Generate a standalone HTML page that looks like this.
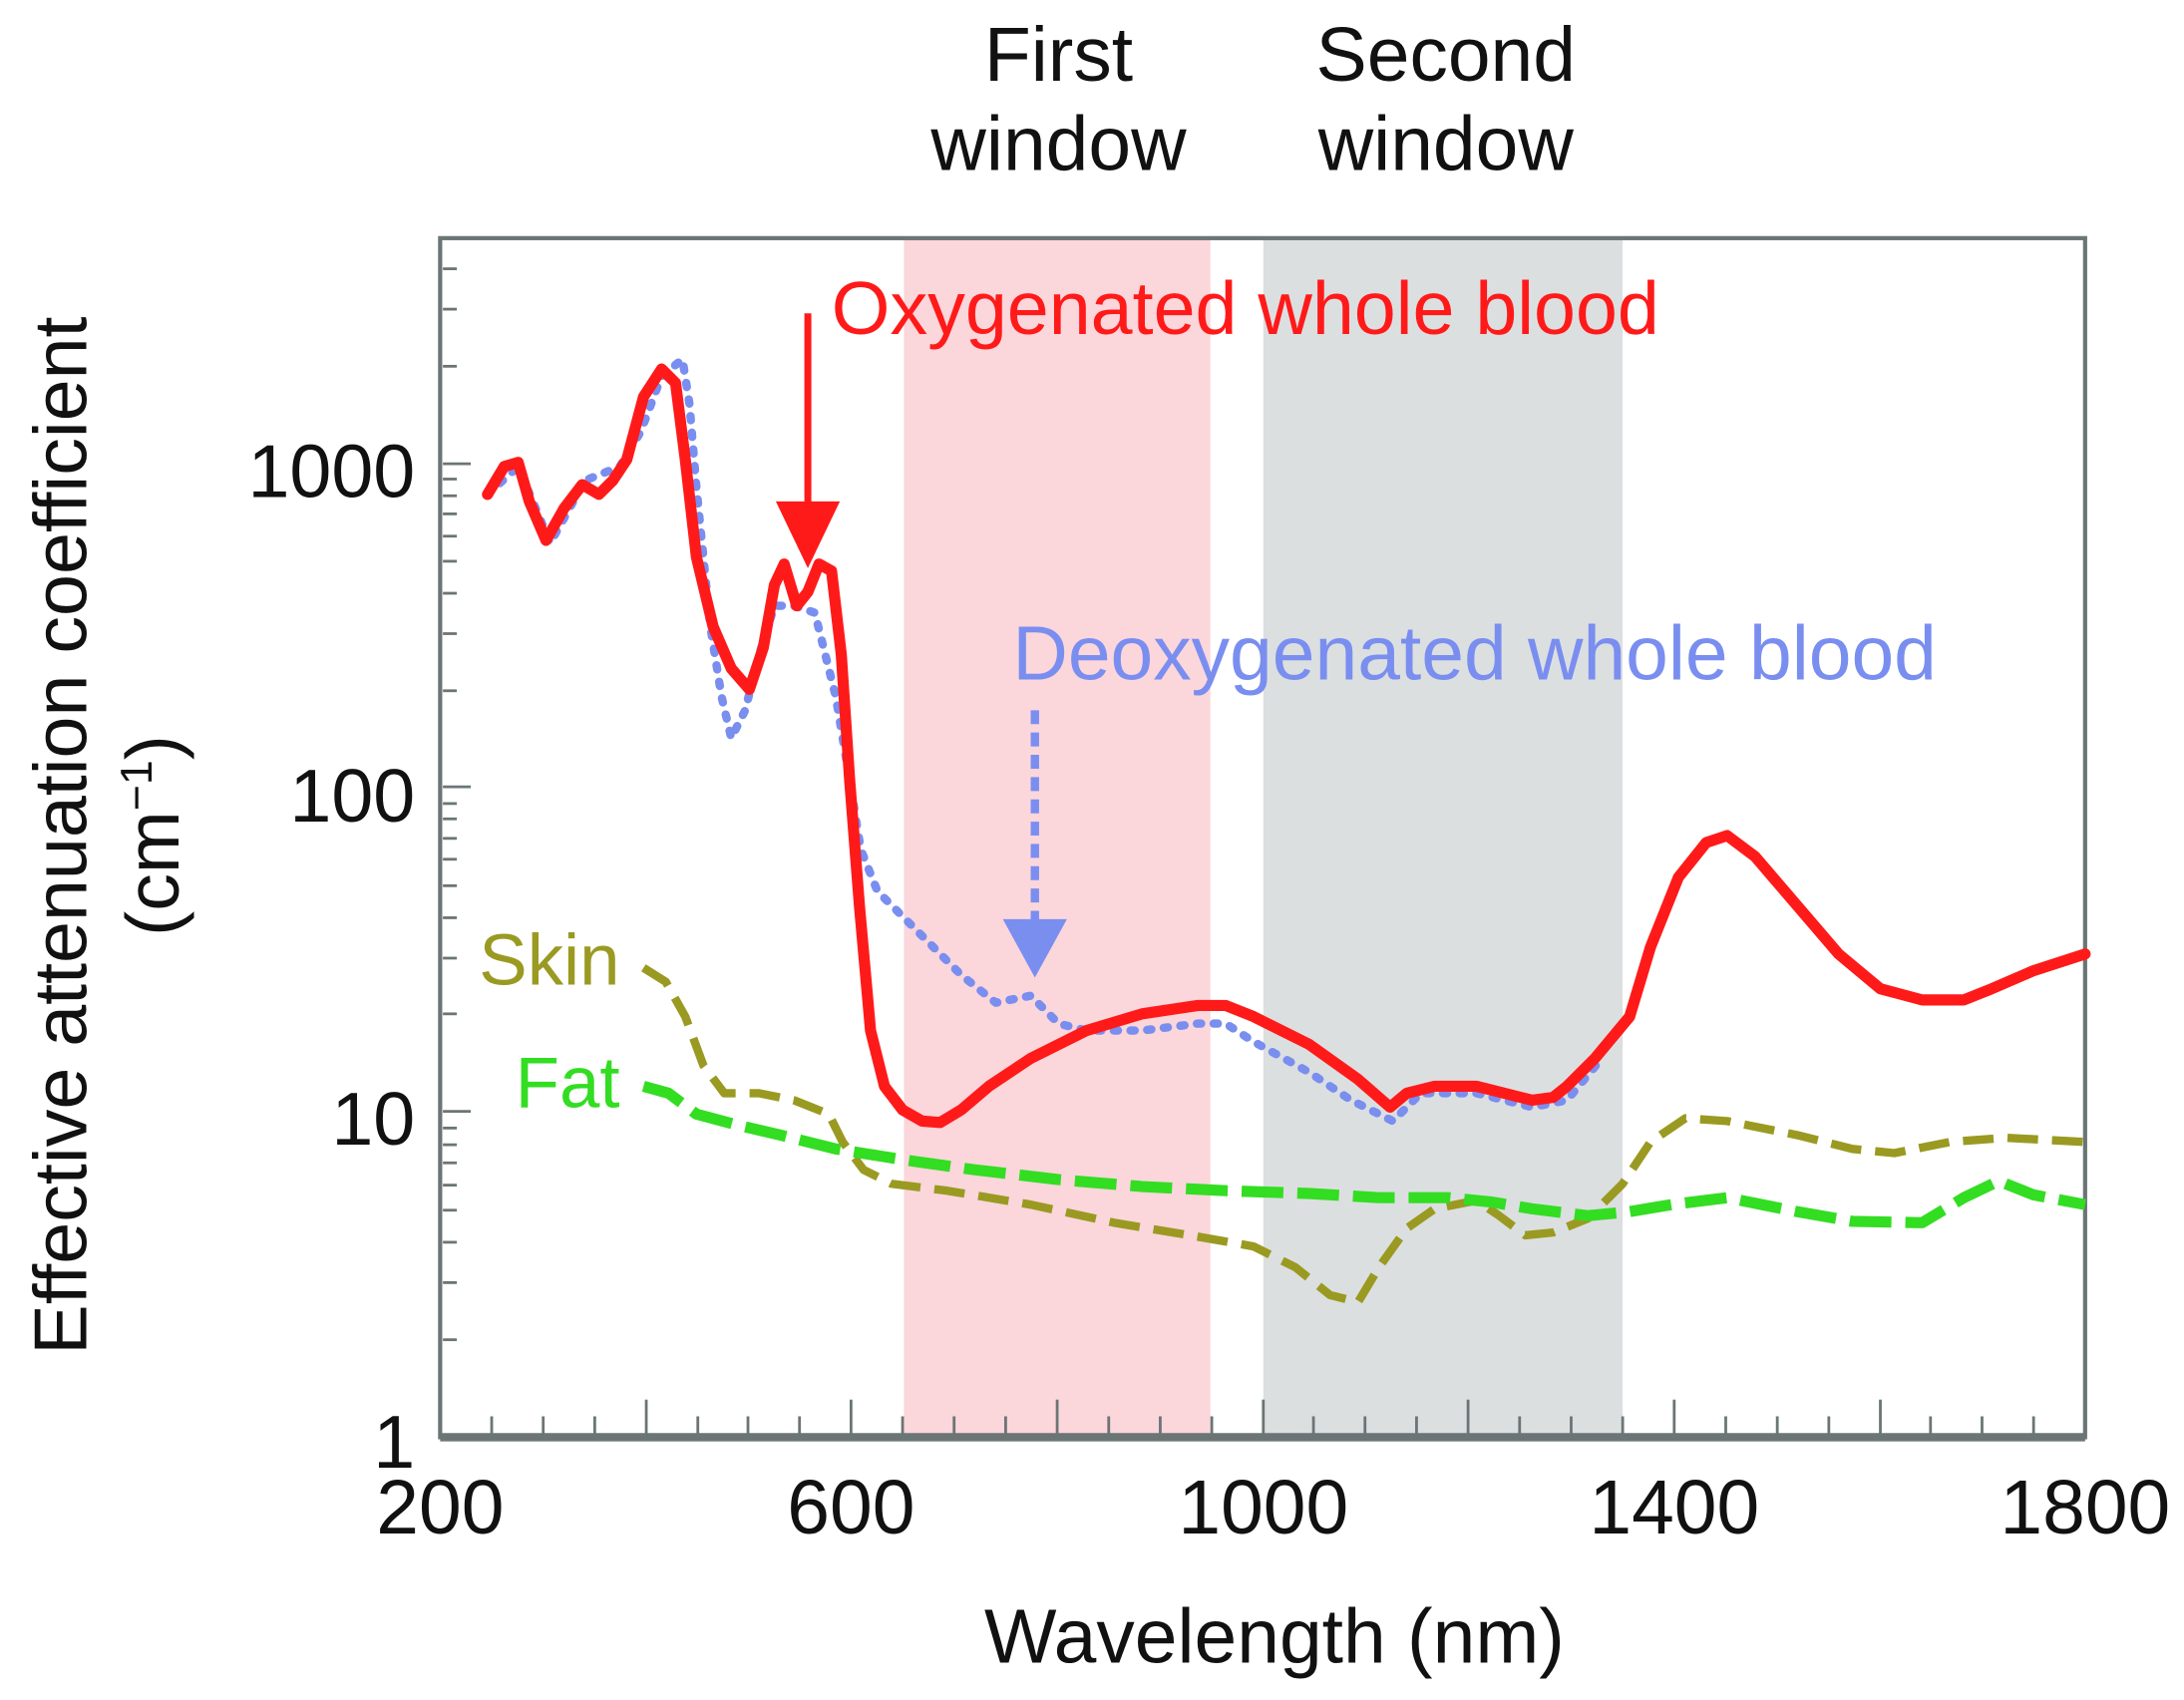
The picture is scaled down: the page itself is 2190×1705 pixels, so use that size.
<!DOCTYPE html>
<html><head><meta charset="utf-8"><style>
html,body{margin:0;padding:0;background:#fff;}
svg{display:block;}
text{font-family:"Liberation Sans",sans-serif;}
</style></head><body>
<svg width="2190" height="1705" viewBox="0 0 1568 1220.7" preserveAspectRatio="none" xmlns="http://www.w3.org/2000/svg">
<rect x="0" y="0" width="1568" height="1221" fill="#fff"/>
<rect x="649" y="172" width="220" height="860" fill="#fbd6db"/>
<rect x="907" y="172" width="258" height="860" fill="#dcdfe0"/>
<rect x="316" y="171" width="1181" height="861" fill="none" stroke="#6b7575" stroke-width="3"/>
<line x1="316" y1="1032" x2="1497" y2="1032" stroke="#6b7575" stroke-width="6"/>
<g stroke="#6b7575" stroke-width="2">
<line x1="353" y1="1030" x2="353" y2="1017"/><line x1="390" y1="1030" x2="390" y2="1017"/><line x1="427" y1="1030" x2="427" y2="1017"/>
<line x1="464" y1="1030" x2="464" y2="1005"/>
<line x1="501" y1="1030" x2="501" y2="1017"/><line x1="537" y1="1030" x2="537" y2="1017"/><line x1="574" y1="1030" x2="574" y2="1017"/>
<line x1="611" y1="1030" x2="611" y2="1005"/>
<line x1="648" y1="1030" x2="648" y2="1017"/><line x1="685" y1="1030" x2="685" y2="1017"/><line x1="722" y1="1030" x2="722" y2="1017"/>
<line x1="759" y1="1030" x2="759" y2="1005"/>
<line x1="796" y1="1030" x2="796" y2="1017"/><line x1="833" y1="1030" x2="833" y2="1017"/><line x1="870" y1="1030" x2="870" y2="1017"/>
<line x1="907" y1="1030" x2="907" y2="1005"/>
<line x1="943" y1="1030" x2="943" y2="1017"/><line x1="980" y1="1030" x2="980" y2="1017"/><line x1="1017" y1="1030" x2="1017" y2="1017"/>
<line x1="1054" y1="1030" x2="1054" y2="1005"/>
<line x1="1091" y1="1030" x2="1091" y2="1017"/><line x1="1128" y1="1030" x2="1128" y2="1017"/><line x1="1165" y1="1030" x2="1165" y2="1017"/>
<line x1="1202" y1="1030" x2="1202" y2="1005"/>
<line x1="1239" y1="1030" x2="1239" y2="1017"/><line x1="1276" y1="1030" x2="1276" y2="1017"/><line x1="1313" y1="1030" x2="1313" y2="1017"/>
<line x1="1350" y1="1030" x2="1350" y2="1005"/>
<line x1="1386" y1="1030" x2="1386" y2="1017"/><line x1="1423" y1="1030" x2="1423" y2="1017"/><line x1="1460" y1="1030" x2="1460" y2="1017"/>
<line x1="318" y1="333" x2="338" y2="333"/><line x1="318" y1="565" x2="338" y2="565"/><line x1="318" y1="798" x2="338" y2="798"/>
<line x1="318" y1="962" x2="328" y2="962"/><line x1="318" y1="921" x2="328" y2="921"/><line x1="318" y1="892" x2="328" y2="892"/><line x1="318" y1="869" x2="328" y2="869"/><line x1="318" y1="851" x2="328" y2="851"/><line x1="318" y1="835" x2="328" y2="835"/><line x1="318" y1="822" x2="328" y2="822"/><line x1="318" y1="810" x2="328" y2="810"/>
<line x1="318" y1="728" x2="328" y2="728"/><line x1="318" y1="688" x2="328" y2="688"/><line x1="318" y1="659" x2="328" y2="659"/><line x1="318" y1="636" x2="328" y2="636"/><line x1="318" y1="617" x2="328" y2="617"/><line x1="318" y1="602" x2="328" y2="602"/><line x1="318" y1="588" x2="328" y2="588"/><line x1="318" y1="577" x2="328" y2="577"/>
<line x1="318" y1="496" x2="328" y2="496"/><line x1="318" y1="455" x2="328" y2="455"/><line x1="318" y1="426" x2="328" y2="426"/><line x1="318" y1="403" x2="328" y2="403"/><line x1="318" y1="385" x2="328" y2="385"/><line x1="318" y1="369" x2="328" y2="369"/><line x1="318" y1="356" x2="328" y2="356"/><line x1="318" y1="344" x2="328" y2="344"/>
<line x1="318" y1="263" x2="328" y2="263"/><line x1="318" y1="222" x2="328" y2="222"/><line x1="318" y1="193" x2="328" y2="193"/>
</g>
<polyline fill="none" stroke="#9a9a22" stroke-width="6" stroke-dasharray="22,10" stroke-linejoin="round" points="462,695 478,705 492,730 505,765 520,785 545,785 570,790 595,800 605,820 620,840 640,850 680,855 740,865 800,878 860,888 900,895 930,910 955,930 975,935 990,910 1010,882 1030,868 1060,862 1075,872 1095,887 1115,885 1140,875 1165,850 1185,820 1210,803 1240,805 1290,815 1330,825 1360,828 1400,820 1440,817 1497,820"/>
<polyline fill="none" stroke="#33dd22" stroke-width="8" stroke-dasharray="30,10" stroke-linejoin="round" points="462,780 480,785 500,800 530,808 560,815 600,825 650,833 700,840 760,847 820,852 880,855 940,857 990,860 1040,860 1070,863 1100,868 1140,873 1170,870 1200,865 1240,860 1290,870 1330,877 1380,878 1410,860 1435,848 1460,858 1497,865"/>
<polyline fill="none" stroke="#7a8ef0" stroke-width="6" stroke-dasharray="3,9" stroke-linecap="round" stroke-linejoin="round" points="350,355 372,335 395,390 420,345 445,335 460,310 475,270 490,258 495,290 500,350 510,450 518,500 525,530 535,510 545,470 556,435 570,435 585,440 600,500 610,560 618,610 630,640 660,670 690,700 715,720 740,715 760,735 780,740 820,740 860,735 880,735 900,748 940,770 970,790 1000,805 1020,785 1060,785 1100,795 1125,790 1150,760"/>
<polyline fill="none" stroke="#ff1a1a" stroke-width="8" stroke-linejoin="round" stroke-linecap="round" points="350,355 362,335 372,332 380,360 392,388 405,365 418,348 430,355 440,345 450,330 462,285 475,265 485,275 492,330 500,400 512,450 525,480 538,495 548,465 556,420 563,405 572,435 580,425 588,405 597,410 604,470 610,560 617,650 625,740 635,780 648,797 662,805 675,806 690,797 710,780 740,760 780,740 820,728 860,722 880,722 900,730 940,750 975,775 998,795 1010,785 1030,780 1060,780 1080,785 1100,790 1115,788 1125,780 1145,760 1170,730 1185,680 1205,630 1225,605 1240,600 1260,615 1290,650 1320,685 1350,710 1380,718 1410,718 1430,710 1460,697 1497,685"/>
<line x1="580" y1="225" x2="580" y2="372" stroke="#ff1a1a" stroke-width="5"/>
<polygon points="557,360 603,360 580,408" fill="#ff1a1a"/>
<line x1="743" y1="510" x2="743" y2="665" stroke="#7a8ef0" stroke-width="6" stroke-dasharray="10,6"/>
<polygon points="720,660 766,660 743,702" fill="#7a8ef0"/>
<g font-size="55" fill="#111" text-anchor="middle">
<text x="760" y="58">First</text><text x="760" y="122">window</text>
<text x="1038" y="58">Second</text><text x="1038" y="122">window</text>
<text x="316" y="1101">200</text><text x="611" y="1101">600</text><text x="907" y="1101">1000</text><text x="1202" y="1101">1400</text><text x="1497" y="1101">1800</text>
<text x="915" y="1194">Wavelength (nm)</text>
</g>
<g font-size="54" fill="#111" text-anchor="end">
<text x="298" y="357">1000</text><text x="298" y="590">100</text><text x="298" y="822">10</text><text x="298" y="1054">1</text>
</g>
<text x="597" y="240" font-size="54" fill="#ff1a1a">Oxygenated whole blood</text>
<text x="727" y="488" font-size="55" fill="#7a8ef0">Deoxygenated whole blood</text>
<text x="445" y="707" font-size="52" fill="#9a9a22" text-anchor="end">Skin</text>
<text x="445" y="795" font-size="52" fill="#33dd22" text-anchor="end">Fat</text>
<g transform="translate(62,600) rotate(-90)"><text x="0" y="0" font-size="54" fill="#111" text-anchor="middle">Effective attenuation coefficient</text></g>
<g transform="translate(128,600) rotate(-90)"><text x="0" y="0" font-size="54" fill="#111" text-anchor="middle">(cm<tspan font-size="32" dy="-19">−1</tspan><tspan dy="19">)</tspan></text></g>
</svg>
</body></html>
